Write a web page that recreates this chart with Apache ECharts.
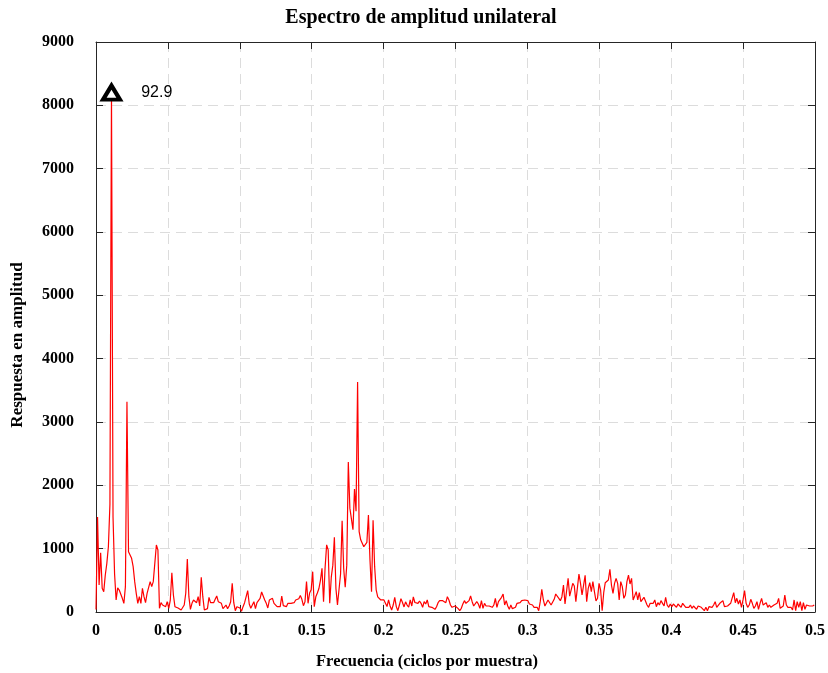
<!DOCTYPE html>
<html>
<head>
<meta charset="utf-8">
<title>Espectro de amplitud unilateral</title>
<script src="https://cdn.jsdelivr.net/npm/echarts@6/dist/echarts.min.js"></script>
<style>
  html, body { margin: 0; padding: 0; background: #fff; }
  #chart { width: 828px; height: 673px; }
</style>
</head>
<body>
<div id="chart"></div>
<script>
// Frequency bin spacing (cycles per sample) and the labelled peak period (samples)
const step = 1 / 929;
const peakPeriod = 92.9;

// One-sided amplitude spectrum, one value per frequency bin k (f = k * step)
const amplitude = [
  40, 1500, 426, 937, 374, 321, 584, 768, 1031, 1700,
  8200, 1500, 600, 189, 380, 347, 374, 216, 137, 400,
  3320, 953, 900, 847, 716, 479, 295, 137, 242, 137,
  374, 242, 147, 295, 295, 479, 400, 479, 479, 1058,
  979, 58, 147, 110, 126, 84, 163, 58, 189, 621,
  268, 84, 110, 63, 42, 32, 63, 110, 300, 837,
  242, 42, 137, 189, 163, 147, 242, 95, 547, 242,
  32, 58, 53, 232, 147, 158, 147, 200, 253, 163,
  189, 137, 53, 74, 110, 53, 95, 163, 452, 147,
  21, 84, 105, 63, 11, 84, 147, 242, 337, 126,
  58, 74, 163, 53, 147, 126, 216, 316, 253, 189,
  137, 63, 189, 210, 216, 137, 126, 84, 110, 84,
  253, 100, 126, 84, 137, 110, 137, 163, 147, 190,
  163, 210, 260, 200, 100, 160, 479, 137, 300, 350,
  637, 84, 240, 300, 370, 500, 690, 163, 700, 1060,
  980, 137, 550, 740, 1180, 370, 110, 95, 600, 1440,
  690, 390, 740, 2370, 1640, 1670, 1300, 1940, 1590, 3630,
  1270, 1140, 1140, 1030, 1000, 1100, 1530, 820, 320, 1450,
  720, 350, 240, 210, 190, 160, 190, 215, 85, 190,
  95, 32, 110, 230, 85, 21, 110, 210, 150, 80,
  160, 110, 75, 190, 95, 240, 150, 150, 137, 174,
  137, 74, 163, 126, 190, 84, 95, 74, 58, 42,
  84, 147, 179, 163, 179, 163, 147, 242, 190, 110,
  74, 74, 95, 74, 53, 21, 58, 126, 179, 137,
  126, 179, 253, 163, 95, 95, 163, 126, 58, 179,
  58, 137, 95, 74, 95, 110, 74, 110, 216, 74,
  163, 137, 232, 284, 110, 179, 95, 42, 110, 53,
  84, 74, 137, 110, 147, 179, 190, 190, 200, 179,
  126, 137, 110, 74, 84, 74, 21, 163, 358, 190,
  95, 110, 190, 179, 110, 137, 200, 284, 284, 216,
  179, 242, 426, 126, 147, 532, 250, 232, 453, 410,
  163, 190, 600, 453, 268, 295, 579, 163, 374, 463,
  321, 479, 321, 174, 216, 453, 347, 21, 305, 463,
  463, 505, 674, 426, 295, 453, 532, 453, 190, 479,
  400, 216, 268, 479, 584, 442, 532, 190, 253, 321,
  190, 305, 163, 137, 232, 253, 110, 74, 137, 163,
  137, 190, 84, 147, 110, 179, 137, 95, 232, 110,
  74, 126, 84, 126, 110, 74, 126, 95, 74, 137,
  110, 74, 95, 74, 110, 58, 95, 74, 42, 95,
  74, 74, 58, 21, 74, 21, 84, 95, 74, 110,
  163, 74, 95, 137, 163, 179, 84, 74, 95, 74,
  137, 147, 305, 147, 216, 126, 190, 74, 190, 337,
  137, 74, 110, 200, 137, 58, 95, 163, 42, 137,
  216, 110, 84, 147, 74, 110, 74, 95, 110, 95,
  137, 216, 58, 74, 95, 268, 110, 74, 95, 74,
  32, 190, 21, 163, 74, 163, 21, 147, 42, 110,
  95, 95, 110, 95, 110
];

// Axis ranges
const xRange = { min: 0, max: 0.5, interval: 0.05 };
const yRange = { min: 0, max: 9000, interval: 1000 };

// Text
const titleText = 'Espectro de amplitud unilateral';
const xTitle = 'Frecuencia (ciclos por muestra)';
const yTitle = 'Respuesta en amplitud';

const spectrum = amplitude.map((v, k) => [k * step, v]);
const peakFreq = 1 / peakPeriod;
const peakBin = Math.round(peakFreq / step);
const peakPoint = [peakFreq, amplitude[peakBin]];

const serif = '"Liberation Serif", "Times New Roman", serif';
const axisColor = '#262626';
const gridColor = '#dcdcdc';

const chart = echarts.init(document.getElementById('chart'), null, { renderer: 'canvas' });

const frameAxis = {
  type: 'value',
  axisLine: { show: true, onZero: false, lineStyle: { color: axisColor, width: 1 } },
  axisTick: { show: true, inside: true, length: 7, lineStyle: { color: axisColor, width: 1 } },
  axisLabel: { show: false },
  splitLine: { show: false }
};

chart.setOption({
  animation: false,
  backgroundColor: '#fff',
  grid: { left: 96, right: 9, top: 42, bottom: 61 },
  xAxis: [
    {
      type: 'value',
      min: xRange.min, max: xRange.max, interval: xRange.interval,
      axisLine: { show: true, onZero: false, lineStyle: { color: axisColor, width: 1 } },
      axisTick: { show: true, inside: true, length: 7, lineStyle: { color: axisColor, width: 1 } },
      axisLabel: {
        margin: 11,
        color: '#000',
        fontFamily: serif,
        fontWeight: 'bold',
        fontSize: 16,
        formatter: (v) => String(Math.round(v * 100) / 100)
      },
      splitLine: { show: true, lineStyle: { color: gridColor, type: [10, 6], width: 1 } }
    },
    Object.assign({}, frameAxis, {
      position: 'top',
      min: xRange.min, max: xRange.max, interval: xRange.interval
    })
  ],
  yAxis: [
    {
      type: 'value',
      min: yRange.min, max: yRange.max, interval: yRange.interval,
      axisLine: { show: true, onZero: false, lineStyle: { color: axisColor, width: 1 } },
      axisTick: { show: true, inside: true, length: 7, lineStyle: { color: axisColor, width: 1 } },
      axisLabel: {
        margin: 22,
        color: '#000',
        fontFamily: serif,
        fontWeight: 'bold',
        fontSize: 16,
        padding: [0, 0, 10, 0],
        formatter: (v) => String(Math.round(v))
      },
      splitLine: { show: true, lineStyle: { color: gridColor, type: [10, 6], width: 1 } }
    },
    Object.assign({}, frameAxis, {
      position: 'right',
      min: yRange.min, max: yRange.max, interval: yRange.interval
    })
  ],
  series: [
    {
      name: 'Espectro',
      type: 'line',
      data: spectrum,
      showSymbol: false,
      symbol: 'none',
      lineStyle: { color: '#ff0000', width: 1.2 },
      z: 3
    },
    {
      name: 'Pico',
      type: 'scatter',
      data: [peakPoint],
      symbol: 'triangle',
      symbolSize: [17, 14],
      itemStyle: { color: '#ffffff', borderColor: '#000000', borderWidth: 4, opacity: 1 },
      label: {
        show: true,
        position: 'right',
        distance: 19,
        formatter: () => peakPeriod.toFixed(1),
        color: '#000',
        fontFamily: '"Liberation Sans", Arial, sans-serif',
        fontSize: 16
      },
      z: 5
    }
  ],
  graphic: [
    {
      type: 'text',
      x: 421, y: 18,
      style: {
        text: titleText,
        fill: '#000',
        font: 'bold 20px ' + serif,
        align: 'center',
        verticalAlign: 'middle'
      }
    },
    {
      type: 'text',
      x: 427, y: 662,
      style: {
        text: xTitle,
        fill: '#000',
        font: 'bold 16.5px ' + serif,
        align: 'center',
        verticalAlign: 'middle'
      }
    },
    {
      type: 'text',
      x: 18, y: 345,
      rotation: Math.PI / 2,
      style: {
        text: yTitle,
        fill: '#000',
        font: 'bold 17px ' + serif,
        align: 'center',
        verticalAlign: 'middle'
      }
    }
  ]
});
</script>
</body>
</html>
